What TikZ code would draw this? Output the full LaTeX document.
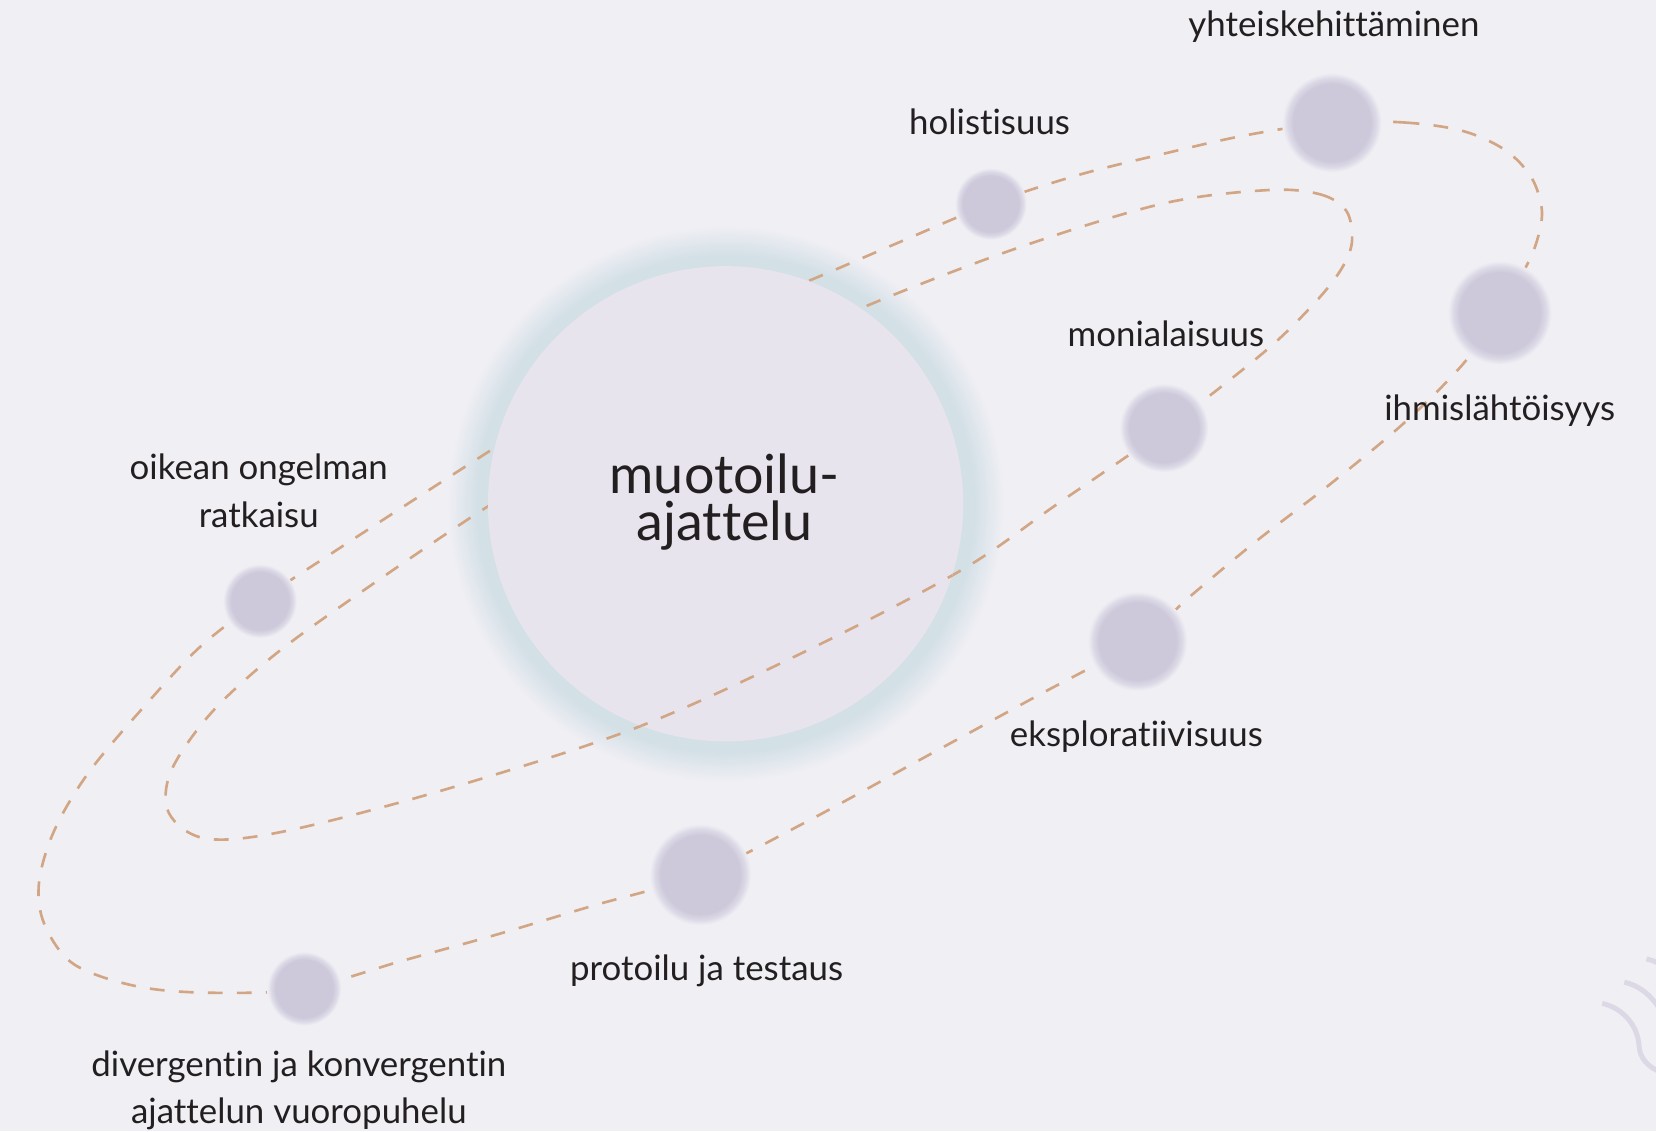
\documentclass[tikz,border=0pt]{standalone}
\usepackage{fontspec}
\setmainfont{Lato}[Ligatures=NoCommon]
\definecolor{bg}{HTML}{F0EFF4}
\definecolor{corec}{HTML}{E7E4EE}
\definecolor{glowc}{HTML}{D3E0E6}
\definecolor{glowmid}{HTML}{E2E8EE}
\definecolor{diskc}{HTML}{CDC9DB}
\definecolor{diskhalo}{HTML}{DDDAE7}
\definecolor{dashc}{HTML}{D2A684}
\definecolor{ink}{HTML}{231F20}
\definecolor{ornament}{HTML}{DCD8E6}
% radial shadings: the edge of the shaded circle sits at 25bp
\pgfdeclareradialshading{softdisk}{\pgfpointorigin}{color(0bp)=(diskc); color(19.5bp)=(diskc); color(22.5bp)=(diskhalo); color(25bp)=(bg); color(50bp)=(bg)}
\pgfdeclareradialshading{halo}{\pgfpointorigin}{color(0bp)=(glowc); color(22.2bp)=(glowc); color(23.6bp)=(glowmid); color(24.9bp)=(bg); color(50bp)=(bg)}
\begin{document}
\begin{tikzpicture}[x=1pt,y=-1pt,
  orbit/.style={draw=dashc, line width=2.5pt, dash pattern=on 14pt off 13.5pt},
  planet/.style={circle, inner sep=0pt, draw=none, shade, shading=softdisk},
  lab/.style={text=ink, font=\fontsize{33}{45}\selectfont, anchor=base, inner sep=0pt},
  title/.style={text=ink, font=\fontsize{51}{44.5}\selectfont, align=center, anchor=base, inner sep=0pt},
  ornarc/.style={draw=ornament, line width=4.7pt}]
\useasboundingbox (0,0) rectangle (1568,1071);
\fill[bg] (0,0) rectangle (1568,1071);

% centre and planet positions
\coordinate (c)   at (687,477);
\coordinate (pyht) at (1261,116);
\coordinate (phol) at (938,193);
\coordinate (pihm) at (1420,296);
\coordinate (pmon) at (1102,405);
\coordinate (poik) at (246,569);
\coordinate (peks) at (1077,607);
\coordinate (ppro) at (663,828);
\coordinate (pdiv) at (288,936);

% soft halo around the core
\shade[shading=halo] (c) circle[radius=265pt];

% outer orbit
\draw[orbit] plot[smooth cycle, tension=0.55] coordinates {
  (pyht) (1330,116) (1385,124) (1425,142) (1450,168) (1460,200) (1454,232) (1440,262)
  (pihm) (1385,345) (1330,400) (1260,458) (1190,512) (1130,562)
  (peks) (980,660) (870,720) (760,780)
  (ppro) (560,858) (470,885) (380,910)
  (pdiv) (200,940) (130,934) (70,913) (42,875) (37,835) (52,785) (85,730) (140,665) (190,612)
  (poik) (320,520) (400,468) (470,423) (570,360) (670,305) (768,265) (850,230)
  (phol) (1020,166) (1100,146) (1180,128)};

% inner orbit
\def\innerorbit{plot[smooth cycle, tension=0.55] coordinates {
  (1200,180) (1250,184) (1275,200) (1280,230) (1268,258) (1240,292) (1195,335)
  (1104,406) (1000,478) (910,540) (760,618) (600,690) (420,748) (270,787) (195,794)
  (160,770) (162,730) (200,675) (260,620) (340,562) (458,482) (570,414) (690,350)
  (815,292) (960,236) (1100,193)}}
\draw[orbit] \innerorbit;

% core disc
\fill[corec] (c) circle[radius=225pt];

% front part of the inner orbit passes over the core
\begin{scope}
  \clip (c) circle[radius=225pt];
  \clip (200,748) -- (1200,248) -- (1200,1100) -- (200,1100) -- cycle;
  \draw[orbit] \innerorbit;
\end{scope}

% planets
\node[planet, minimum size=94pt] (yht) at (pyht) {};
\node[planet, minimum size=68pt] (hol) at (phol) {};
\node[planet, minimum size=98pt] (ihm) at (pihm) {};
\node[planet, minimum size=84pt] (mon) at (pmon) {};
\node[planet, minimum size=70pt] (oik) at (poik) {};
\node[planet, minimum size=94pt] (eks) at (peks) {};
\node[planet, minimum size=96pt] (pro) at (ppro) {};
\node[planet, minimum size=70pt] (div) at (pdiv) {};

% title (base anchor sits on the last line)
\node[title] (core) at (686,512) {muotoilu-\\ajattelu};

% labels
\node[lab] (lyht) at (1263,35) {yhteiskehittäminen};
\node[lab] (lhol) at (937,127) {holistisuus};
\node[lab] (lmon) at (1104,328) {monialaisuus};
\node[lab] (lihm) at (1420,398) {ihmislähtöisyys};
\node[lab] (loik1) at (245,454) {oikean ongelman};
\node[lab] (loik2) at (245,499) {ratkaisu};
\node[lab] (leks) at (1076,707) {eksploratiivisuus};
\node[lab] (lpro) at (669,928) {protoilu ja testaus};
\node[lab] (ldiv1) at (283,1019) {divergentin ja konvergentin};
\node[lab] (ldiv2) at (283,1064) {ajattelun vuoropuhelu};

% corner ornament
\begin{scope}
  \clip (0,0) rectangle (1568,1071);
  \draw[ornarc] (1517,950) .. controls (1538,955) and (1551,972) .. (1552,991)
                .. controls (1553,1002) and (1560,1010) .. (1572,1015);
  \draw[ornarc] (1538,930) .. controls (1552,933) and (1563,942) .. (1572,956);
  \draw[ornarc] (1559,908) .. controls (1563,909) and (1567,910) .. (1572,913);
\end{scope}
\end{tikzpicture}
\end{document}
